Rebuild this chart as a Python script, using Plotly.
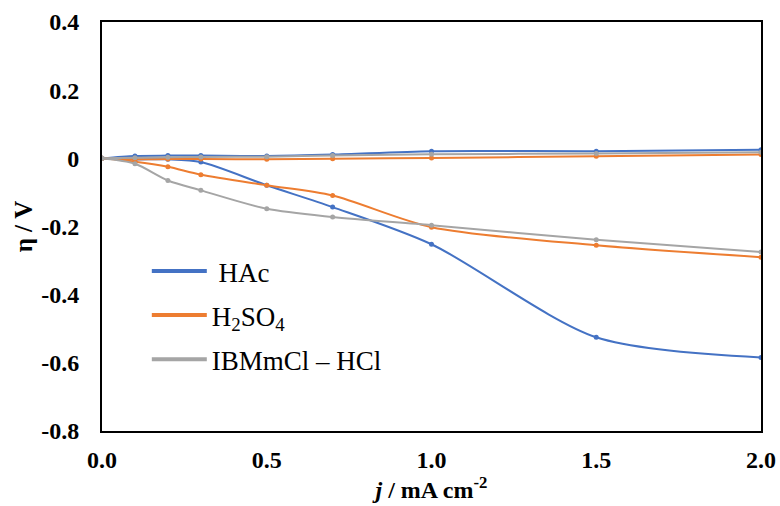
import plotly.graph_objects as go

# Data
j_values = [0, 0.1, 0.2, 0.3, 0.5, 0.7, 1.0, 1.5, 2.0]
hac_upper = [0, 0.007, 0.008, 0.008, 0.007, 0.011, 0.021, 0.021, 0.025]
hac_lower = [0, -0.003, -0.003, -0.011, -0.079, -0.143, -0.252, -0.525, -0.584]
h2so4_upper = [0, -0.003, -0.002, -0.002, -0.003, -0.001, 0.001, 0.006, 0.011]
h2so4_lower = [0, -0.010, -0.025, -0.048, -0.079, -0.109, -0.202, -0.255, -0.290]
ibm_upper = [0, 0.002, 0.003, 0.004, 0.005, 0.008, 0.012, 0.014, 0.018]
ibm_lower = [0, -0.016, -0.065, -0.094, -0.148, -0.172, -0.196, -0.239, -0.275]

series_names = ["&nbsp;HAc", "H<sub>2</sub>SO<sub>4</sub>", "IBMmCl – HCl"]
series_colors = ["#4472C4", "#ED7D31", "#A5A5A5"]
series_data = [(hac_upper, hac_lower), (h2so4_upper, h2so4_lower), (ibm_upper, ibm_lower)]

y_tickvals = [0.4, 0.2, 0, -0.2, -0.4, -0.6, -0.8]
y_ticktext = ["0.4", "0.2", "0", "-0.2", "-0.4", "-0.6", "-0.8"]
x_tickvals = [0, 0.5, 1.0, 1.5, 2.0]
x_ticktext = ["0.0", "0.5", "1.0", "1.5", "2.0"]

FONT = "Liberation Serif"

fig = go.Figure()
for i, (name, color, (up, low)) in enumerate(zip(series_names, series_colors, series_data)):
    for ys in [up, low]:
        fig.add_trace(go.Scatter(
            x=j_values, y=ys, mode="lines+markers",
            legendgroup=f"g{i}", showlegend=False, hoverinfo="x+y",
            line=dict(color=color, width=2, shape="spline", smoothing=0.8),
            marker=dict(color=color, size=5),
        ))
    # legend entry (line only, as in the reference)
    fig.add_trace(go.Scatter(
        x=[None], y=[None], mode="lines", name=name, legendgroup=f"g{i}",
        line=dict(color=color, width=4),
    ))

fig.update_layout(
    width=780, height=506,
    margin=dict(l=102, r=19, t=22, b=75),
    paper_bgcolor="white", plot_bgcolor="white",
    font=dict(family=FONT, color="black"),
    showlegend=True,
    legend=dict(
        x=0.068, y=0.45, xanchor="left", yanchor="top",
        font=dict(family=FONT, size=27, color="black"),
        bgcolor="rgba(0,0,0,0)", tracegroupgap=6, itemwidth=55,
    ),
    xaxis=dict(
        range=[0, 2.0], tickvals=x_tickvals,
        ticktext=[f"<b>{t}</b>" for t in x_ticktext],
        showgrid=False, zeroline=False, automargin=False,
        showline=True, linecolor="black", linewidth=2, mirror=True,
        ticks="", ticklabelstandoff=6,
        tickfont=dict(family=FONT, size=24, color="black"),
        title=dict(text="<b><i>j</i> / mA cm<sup>-2</sup></b>",
                   font=dict(family=FONT, size=24, color="black"), standoff=9),
    ),
    yaxis=dict(
        range=[-0.8, 0.4], tickvals=y_tickvals,
        ticktext=[f"<b>{t}</b>" for t in y_ticktext],
        showgrid=False, zeroline=False, automargin=False,
        showline=True, linecolor="black", linewidth=2, mirror=True,
        ticks="", ticklabelstandoff=16,
        tickfont=dict(family=FONT, size=24, color="black"),
        title=dict(text="<b>η / V</b>",
                   font=dict(family=FONT, size=25, color="black"), standoff=1),
    ),
)

fig.write_html("out.html")
